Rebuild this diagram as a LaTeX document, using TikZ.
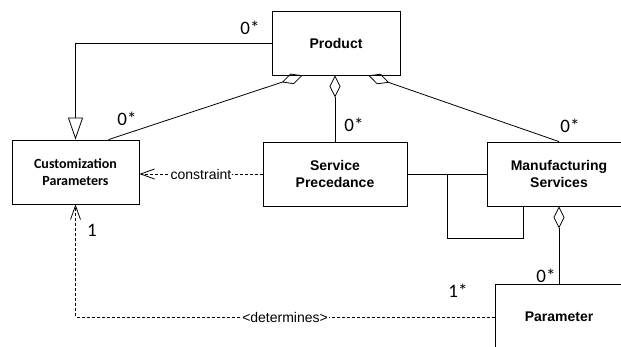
\documentclass[tikz,border=0pt]{standalone}
\usepackage{fontspec}
\setmainfont{Liberation Sans}
\newfontfamily\calib{Carlito}
\usetikzlibrary{arrows.meta}
\tikzset{
  box/.style={draw, line width=0.8pt, align=center, font={\fontsize{14}{17}\selectfont\bfseries}, inner sep=0pt},
  conn/.style={line width=0.8pt},
  gen/.style={conn, -{Triangle[open, length=22pt, width=15pt]}},
  aggr/.style={conn, {Diamond[open, length=22pt, width=11pt]}-},
  dep/.style={conn, dash pattern=on 3pt off 2pt, -{Straight Barb[length=14pt, width=10pt]}},
  mult/.style={font={\calib\fontsize{19}{19}\selectfont}, inner sep=0pt},
  lbl/.style={font={\fontsize{14}{14}\selectfont}, fill=white, inner sep=1pt}
}
\begin{document}
\begin{tikzpicture}[x=1pt, y=-1pt]
\useasboundingbox (0,0) rectangle (621,347);
\node[box, minimum width=128pt, minimum height=64pt] (product) at (336,43) {Product};
\node[box, minimum width=127pt, minimum height=64pt, font={\calib\fontsize{14}{17}\selectfont\bfseries}] (cust) at (75.5,172) {Customization\\Parameters};
\node[box, minimum width=144pt, minimum height=64pt] (sp) at (335,174) {Service\\Precedance};
\node[box, minimum width=144pt, minimum height=64pt] (ms) at (559,174) {Manufacturing\\Services};
\node[box, minimum width=128pt, minimum height=66pt] (param) at (559,317) {Parameter};
% generalization
\draw[gen] (product.west) -| (cust.north);
% aggregations
\draw[aggr] ([xshift=31pt]product.south west) -- ([xshift=33pt]cust.north);
\draw[aggr] ([xshift=-1pt]product.south) -- (sp.north);
\draw[aggr] ([xshift=-32pt]product.south east) -- (ms.north);
\draw[aggr] (ms.south) -- (param.north);
% associations
\draw[conn] (sp.east) -- (ms.west);
\coordinate (lpA) at (447,238);
\coordinate (lpB) at (523,206);
\draw[conn] (ms.west) -| (lpA) -| (lpB);
% dependencies
\draw[dep] (sp.west) -- (cust.east |- sp.west) node[midway, lbl] {constraint};
\draw[dep] (param.west) -| (cust.south) node[pos=0.25, lbl] {<determines>};
% multiplicities
\node[mult] (m1) at (250,28) {0*};
\node[mult] (m2) at (127,119) {0*};
\node[mult] (m3) at (354,125) {0*};
\node[mult] (m4) at (570,126) {0*};
\node[mult] (m5) at (546,276) {0*};
\node[mult] (m6) at (92,230) {1};
\node[mult] (m7) at (458,291) {1*};
\end{tikzpicture}
\end{document}
